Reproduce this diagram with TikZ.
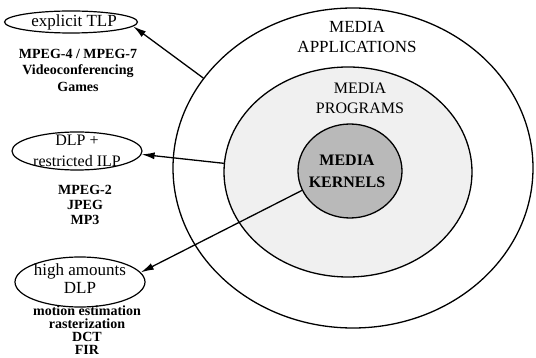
\documentclass[tikz,border=0pt]{standalone}
\usepackage{fontspec}
\setmainfont{Liberation Serif}
\usetikzlibrary{shapes.geometric,arrows.meta}
\begin{document}
\begin{tikzpicture}[x=1pt,y=-1pt,
  ring/.style={draw, ellipse, line width=1.3pt, inner sep=0pt},
  bubble/.style={draw, ellipse, line width=1.2pt, inner sep=0pt},
  lbl/.style={align=center, inner sep=0pt},
  arr/.style={line width=1.3pt, -{Latex[length=13pt,width=7pt]}}]
\useasboundingbox (0,0) rectangle (536,358);
% concentric regions
\node[ring, fill=white, minimum width=360pt, minimum height=320pt] (outer) at (353,168) {};
\node[ring, fill=gray!12, minimum width=248pt, minimum height=210pt] (middle) at (348,172) {};
\node[ring, fill=gray!55, minimum width=104pt, minimum height=94pt] (inner) at (350,171) {};
\node[lbl, font=\fontsize{17}{20}\selectfont] (tapp) at (357,37) {MEDIA\\APPLICATIONS};
\node[lbl, font=\fontsize{16}{20}\selectfont] (tprog) at (360,98) {MEDIA\\PROGRAMS};
\node[lbl, font=\bfseries\fontsize{16}{22}\selectfont] (tkern) at (347,171) {MEDIA\\KERNELS};
% left bubbles
\node[bubble, minimum width=133pt, minimum height=22pt] (e1) at (71,22) {};
\node[lbl, font=\fontsize{17}{20}\selectfont] (t1) at (74,22) {explicit TLP};
\node[bubble, minimum width=130pt, minimum height=38pt] (e2) at (77,151) {};
\node[lbl, font=\fontsize{16}{21}\selectfont] (t2) at (e2.center) {DLP +\\restricted ILP};
\node[bubble, minimum width=130pt, minimum height=50pt] (e3) at (80,282) {};
\node[lbl, font=\fontsize{17}{18}\selectfont] (t3) at (80,279) {high amounts\\DLP};
% lists
\node[lbl, font=\bfseries\fontsize{14}{16.5}\selectfont] (l1) at (78,70) {MPEG-4 / MPEG-7\\Videoconferencing\\Games};
\node[lbl, font=\bfseries\fontsize{14}{15}\selectfont] (l2) at (85,205) {MPEG-2\\JPEG\\MP3};
\node[lbl, font=\bfseries\fontsize{14}{13.2}\selectfont] (l3) at (87,330) {motion estimation\\rasterization\\DCT\\FIR};
% arrows
\draw[arr] (outer.149) -- (e1.-4);
\draw[arr] (middle.176) -- (e2.-3);
\draw[arr] (inner.-158) -- (e3.9);
\end{tikzpicture}
\end{document}
